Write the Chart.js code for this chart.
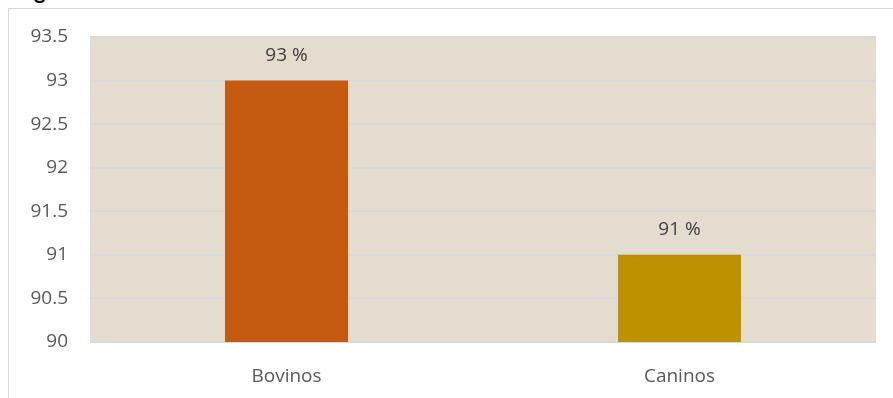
<!DOCTYPE html>
<html>
<head>
<meta charset="utf-8">
<script src="https://cdn.jsdelivr.net/npm/chart.js@4/dist/chart.umd.min.js"></script>
<style>
  html, body { margin: 0; padding: 0; background: #fff; overflow: hidden; }
  body { width: 893px; height: 398px; position: relative; }
  /* title sits above the crop, only its descenders show */
  #title {
    position: absolute; left: 16px; top: -21px;
    font: bold 22px Lato, sans-serif; line-height: 24px; color: #000;
    white-space: nowrap;
  }
  #frame {
    position: absolute; left: 8px; top: 8px; width: 885px; height: 390px;
    border-left: 1px solid #d9d9d9; border-top: 1px solid #d9d9d9;
    box-sizing: border-box;
  }
  #wrap { position: absolute; left: 9px; top: 9px; width: 884px; height: 389px; }
</style>
</head>
<body>
<div id="title">Figura</div>
<div id="frame"></div>
<div id="wrap"><canvas id="chart"></canvas></div>
<script>
// ─── Data ────────────────────────────────────────────────────────────────────
const categories = ['Bovinos', 'Caninos'];
const values     = [93, 91];
const barColors  = ['#C55A11', '#BF9000'];
const yTicks     = [90, 90.5, 91, 91.5, 92, 92.5, 93, 93.5];

const FONT = '"Open Sans", sans-serif';

// beige plot area behind the bars
const plotBg = {
    id: 'plotBg',
    beforeDraw(chart) {
        const { ctx, chartArea: a } = chart;
        ctx.save();
        ctx.fillStyle = '#e4dccf';
        ctx.fillRect(a.left, a.top, a.right - a.left, a.bottom - a.top);
        ctx.restore();
    }
};

// "93 %" style labels above each bar
const valueLabels = {
    id: 'valueLabels',
    afterDatasetsDraw(chart) {
        const { ctx } = chart;
        const meta = chart.getDatasetMeta(0);
        ctx.save();
        ctx.font = '19px ' + FONT;
        ctx.fillStyle = '#404040';
        ctx.textAlign = 'center';
        ctx.textBaseline = 'middle';
        meta.data.forEach((bar, i) => {
            ctx.fillText(values[i] + ' %', bar.x, bar.y - 25);
        });
        ctx.restore();
    }
};

new Chart(document.getElementById('chart'), {
    type: 'bar',
    data: {
        labels: categories,
        datasets: [{
            data: values,
            backgroundColor: barColors,
            borderWidth: 0,
            categoryPercentage: 1,
            barPercentage: 0.313
        }]
    },
    options: {
        responsive: true,
        maintainAspectRatio: false,
        animation: false,
        layout: { padding: { top: 28, right: 17, left: 0, bottom: 0 } },
        plugins: { legend: { display: false }, tooltip: { enabled: false } },
        scales: {
            x: {
                grid: { display: false },
                border: { display: false },
                ticks: { color: '#595959', font: { family: FONT, size: 19 }, padding: 15 },
                afterFit: s => { s.height = 56; s.paddingLeft = 0; s.paddingRight = 0; }
            },
            y: {
                min: 90,
                max: 93.5,
                afterBuildTicks: s => { s.ticks = yTicks.map(v => ({ value: v })); },
                grid: { color: '#d9d9dc', lineWidth: 2, drawTicks: false },
                border: { display: false },
                ticks: {
                    color: '#595959',
                    font: { family: FONT, size: 19 },
                    padding: 22,
                    callback: v => String(v)
                },
                afterFit: s => { s.width = 81; s.paddingTop = 0; s.paddingBottom = 0; }
            }
        }
    },
    plugins: [plotBg, valueLabels]
});
</script>
</body>
</html>
